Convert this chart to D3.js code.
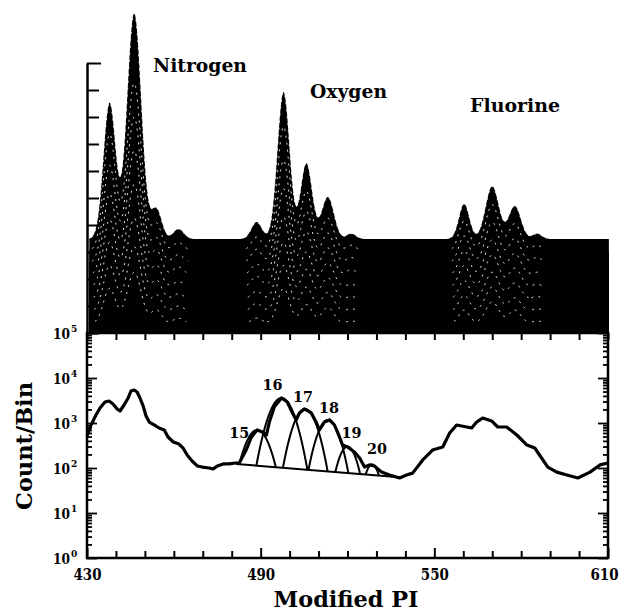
<!DOCTYPE html>
<html>
<head>
<meta charset="utf-8">
<script src="https://cdn.jsdelivr.net/npm/d3@7"></script>
<style>
  body { margin: 0; background: #fff; }
  svg { display: block; }
  text { font-family: "DejaVu Serif", serif; font-weight: bold; fill: #000; }
</style>
</head>
<body>
<svg id="chart" width="625" height="612"></svg>
<script>
// ---------------- data ----------------
// Lower panel: summed spectrum (Modified PI, counts per bin)
const spectrumPI = [
  430.0, 431.4, 433.1, 434.5, 436.2, 437.6, 439.0, 440.4, 441.4, 442.8,
  444.2, 445.2, 446.3, 447.3, 448.3, 449.4, 450.4, 451.5, 453.2, 454.9,
  456.7, 458.0, 459.8, 461.8, 463.2, 464.6, 466.3, 468.1, 469.8, 472.2,
  473.6, 475.0, 477.1, 479.2, 481.2, 482.6, 485.0, 486.8, 488.8, 490.6,
  492.0, 493.0, 494.7, 497.2, 499.2, 501.0, 502.3, 503.4, 505.1, 507.5,
  509.3, 510.3, 512.0, 513.8, 515.5, 517.2, 518.3, 520.0, 522.4, 524.2,
  525.9, 527.6, 529.3, 531.8, 534.5, 538.0, 540.4, 542.5, 546.0, 549.4,
  552.9, 555.3, 557.7, 561.2, 562.9, 564.6, 566.7, 569.8, 571.9, 575.0,
  578.5, 582.0, 584.7, 587.5, 589.2, 592.3, 595.8, 599.6, 603.8, 607.2,
  610.0
];
const spectrumCount = [
  514, 903, 1510, 2150, 2930, 3080, 2640, 2050, 1850, 2510,
  3590, 5140, 5410, 4890, 3590, 2390, 1430, 1050, 903, 774,
  699, 489, 378, 341, 278, 194, 143, 111, 105, 100,
  95, 111, 123, 123, 129, 129, 251, 489, 699, 631,
  541, 1050, 2270, 3590, 2930, 1670, 1170, 1670, 2050, 1670,
  1000, 699, 1050, 1170, 903, 489, 324, 293, 227, 167,
  105, 117, 111, 81, 70, 60, 70, 77, 151, 251,
  293, 600, 903, 815, 774, 1050, 1290, 1110, 815, 815,
  541, 324, 278, 151, 105, 81, 70, 60, 81, 117,
  129
];

// Gaussian fits to the oxygen charge-state peaks
const fitLabels = ["15", "16", "17", "18", "19", "20"];
const fitCenter = [488.8, 497.2, 505.3, 513.3, 520.0, 528.5];
const fitAmplitude = [700, 3600, 2050, 1170, 300, 120];
const fitSigma = [3.3, 3.3, 3.1, 3.0, 2.6, 2.2];

// Straight background under the fitted peaks (end points)
const fitBackgroundPI = [481.5, 538.0];
const fitBackgroundCount = [123, 62];

// Upper panel: stacked spectra, back row first
const topPeakPI = [437.8, 446.3, 454.0, 461.6, 488.6, 497.9, 505.8, 513.2, 521.3, 560.3, 570.0, 577.8, 585.5];
const topPeakWidth = [2.1, 2.45, 1.8, 1.8, 1.8, 2.1, 2.0, 2.1, 1.6, 1.8, 2.3, 2.1, 1.6];
const rowBaseline = [3.48, 3.05, 2.6, 2.15, 1.7, 1.25, 0.8, 0.35];
const rowAmplitude = [
  [5.04, 8.37, 1.10, 0.37, 0.63, 5.45, 2.80, 1.56, 0.20, 1.30, 1.95, 1.22, 0.20],
  [4.30, 6.20, 1.00, 0.30, 0.50, 4.60, 2.20, 1.20, 0.20, 1.10, 1.70, 1.00, 0.20],
  [3.60, 5.40, 0.90, 0.30, 0.50, 3.80, 1.90, 1.10, 0.20, 1.00, 1.50, 0.90, 0.20],
  [3.00, 4.60, 0.90, 0.30, 0.40, 3.20, 1.60, 1.00, 0.20, 0.90, 1.30, 0.80, 0.10],
  [2.50, 3.80, 0.80, 0.20, 0.40, 2.60, 1.30, 0.90, 0.10, 0.80, 1.20, 0.70, 0.10],
  [2.10, 3.00, 0.70, 0.20, 0.30, 2.10, 1.10, 0.80, 0.10, 0.70, 1.00, 0.60, 0.10],
  [1.70, 2.40, 0.60, 0.20, 0.30, 1.70, 0.90, 0.70, 0.10, 0.60, 0.90, 0.50, 0.10],
  [1.30, 1.90, 0.50, 0.20, 0.20, 1.30, 0.70, 0.60, 0.10, 0.50, 0.80, 0.50, 0.10]
];

const speciesNames = ["Nitrogen", "Oxygen", "Fluorine"];
const xTickValues = [430, 440, 450, 460, 470, 480, 490, 500, 510, 520, 530, 540, 550, 560, 570, 580, 590, 600, 610];
const xTickLabels = [430, 490, 550, 610];
const topTickValues = [0, 1, 2, 3, 4, 5, 6, 7, 8, 9, 10];

// ---------------- layout ----------------
const layout = {
  left: 87, right: 608,
  logTop: 333, logBottom: 558,
  topPanelTop: 63,
  speciesPos: [[153, 72, 94], [310, 98, 77], [470, 112, 90]],
  fitLabelOffset: [[-18, 8], [-9, -8], [-2, -7], [1, -7], [4, -9], [5, -10]]
};

const svg = d3.select("#chart");

const x = d3.scaleLinear().domain([430, 610]).range([layout.left, layout.right]);
const yLog = d3.scaleLog().domain([1, 1e5]).range([layout.logBottom, layout.logTop]);
const yTop = d3.scaleLinear().domain([0, 10]).range([layout.logTop, layout.topPanelTop]);

// ---------------- upper panel: stacked spectra ----------------
const samplePI = d3.range(430.8, 610.31, 0.25);
const rows = rowBaseline.map((b, k) => samplePI.map(p => {
  let v = b;
  topPeakPI.forEach((c, j) => {
    const z = (p - c) / topPeakWidth[j];
    v += rowAmplitude[k][j] * Math.exp(-0.5 * z * z);
  });
  return { pi: p, v: v, lift: v - b };
}));

const area = d3.area()
  .x(d => x(d.pi))
  .y0(yTop(0))
  .y1(d => yTop(d.v));
const edge = d3.line()
  .defined(d => d.lift > 0.06)
  .x(d => x(d.pi))
  .y(d => yTop(d.v));

const gStack = svg.append("g");
rows.forEach(r => {
  gStack.append("path").attr("d", area(r)).attr("fill", "#000");
  gStack.append("path").attr("d", edge(r))
    .attr("fill", "none").attr("stroke", "#fff")
    .attr("stroke-width", 0.9).attr("stroke-dasharray", "2 5");
});

// left axis of upper panel
const topAxis = svg.append("g")
  .attr("transform", `translate(${layout.left},0)`)
  .call(d3.axisLeft(yTop).tickValues(topTickValues).tickSize(-12).tickSizeOuter(0).tickFormat(""));
topAxis.select(".domain").attr("stroke-width", 2.5);
topAxis.selectAll(".tick line").attr("stroke-width", 2)
  .attr("x2", d => d === 10 ? 14 : 12);

// species labels
speciesNames.forEach((name, i) => {
  const [tx, ty, tw] = layout.speciesPos[i];
  svg.append("text").attr("x", tx).attr("y", ty)
    .attr("font-size", 18).attr("textLength", tw).attr("lengthAdjust", "spacingAndGlyphs")
    .text(name);
});

// ---------------- lower panel: log spectrum ----------------
// frame
svg.append("rect")
  .attr("x", layout.left).attr("y", layout.logTop)
  .attr("width", layout.right - layout.left).attr("height", layout.logBottom - layout.logTop)
  .attr("fill", "none").attr("stroke", "#000").attr("stroke-width", 2.5);

const isDecade = v => Math.abs(Math.log10(v) - Math.round(Math.log10(v))) < 1e-9;
const logTicks = yLog.ticks();

// left log axis with labels
const gLeft = svg.append("g")
  .attr("transform", `translate(${layout.left},0)`)
  .call(d3.axisLeft(yLog).tickValues(logTicks).tickSize(-5).tickSizeOuter(0).tickFormat(""));
gLeft.select(".domain").remove();
gLeft.selectAll(".tick line")
  .attr("x2", d => isDecade(d) ? 10 : 5)
  .attr("stroke-width", 1.8);
gLeft.selectAll(".tick text").remove();
logTicks.filter(isDecade).forEach(v => {
  svg.append("text")
    .attr("x", layout.left - 17).attr("y", yLog(v) + 5.5)
    .attr("text-anchor", "end").attr("font-size", 14)
    .attr("textLength", 17).attr("lengthAdjust", "spacingAndGlyphs")
    .text("10");
  svg.append("text")
    .attr("x", layout.left - 16).attr("y", yLog(v) - 1)
    .attr("font-size", 9)
    .text(Math.round(Math.log10(v)));
});

// right log axis
const gRight = svg.append("g")
  .attr("transform", `translate(${layout.right},0)`)
  .call(d3.axisRight(yLog).tickValues(logTicks).tickSize(-5).tickSizeOuter(0).tickFormat(""));
gRight.select(".domain").remove();
gRight.selectAll(".tick line")
  .attr("x2", d => isDecade(d) ? -10 : -5)
  .attr("stroke-width", 1.8);

// bottom x axis
const gBottom = svg.append("g")
  .attr("transform", `translate(0,${layout.logBottom})`)
  .call(d3.axisBottom(x).tickValues(xTickValues).tickSize(-7).tickSizeOuter(0).tickPadding(11)
    .tickFormat(d => xTickLabels.includes(d) ? d : ""));
gBottom.select(".domain").remove();
gBottom.selectAll(".tick line")
  .attr("y2", d => xTickLabels.includes(d) ? -10 : -7)
  .attr("stroke-width", 2);
gBottom.selectAll(".tick text")
  .attr("font-size", 16).attr("font-family", "DejaVu Serif").attr("font-weight", "bold")
  .attr("dx", d => d === 610 ? -4 : 0)
  .attr("textLength", d => xTickLabels.includes(d) ? 28 : null)
  .attr("lengthAdjust", "spacingAndGlyphs");

// top x ticks of lower panel
const gTopX = svg.append("g")
  .attr("transform", `translate(0,${layout.logTop})`)
  .call(d3.axisTop(x).tickValues(xTickValues).tickSize(-7).tickSizeOuter(0).tickFormat(""));
gTopX.select(".domain").remove();
gTopX.selectAll(".tick line").attr("stroke-width", 2);

// spectrum
const spectrum = spectrumPI.map((p, i) => ({ pi: p, v: spectrumCount[i] }));
svg.append("path")
  .attr("d", d3.line().x(d => x(d.pi)).y(d => yLog(d.v))(spectrum))
  .attr("fill", "none").attr("stroke", "#000").attr("stroke-width", 3.2)
  .attr("stroke-linejoin", "round");

// background line under the fits
const bgY = d3.scaleLinear().domain(fitBackgroundPI).range(fitBackgroundCount.map(c => yLog(c)));
svg.append("line")
  .attr("x1", x(fitBackgroundPI[0])).attr("y1", yLog(fitBackgroundCount[0]))
  .attr("x2", x(fitBackgroundPI[1])).attr("y2", yLog(fitBackgroundCount[1]))
  .attr("stroke", "#000").attr("stroke-width", 2);

// fitted components, drawn above the background
fitCenter.forEach((c, i) => {
  const s = fitSigma[i];
  const pts = d3.range(c - 4 * s, c + 4 * s, 0.05).map(p => {
    const z = (p - c) / s;
    return { pi: p, v: fitAmplitude[i] * Math.exp(-0.5 * z * z) };
  });
  const ln = d3.line()
    .defined(d => yLog(d.v) <= bgY(d.pi))
    .x(d => x(d.pi)).y(d => yLog(d.v));
  svg.append("path").attr("d", ln(pts))
    .attr("fill", "none").attr("stroke", "#000").attr("stroke-width", 2);
  const [dx, dy] = layout.fitLabelOffset[i];
  svg.append("text")
    .attr("x", x(c) + dx).attr("y", yLog(fitAmplitude[i]) + dy)
    .attr("text-anchor", "middle").attr("font-size", 15)
    .attr("textLength", 20).attr("lengthAdjust", "spacingAndGlyphs")
    .text(fitLabels[i]);
});

// axis titles
svg.append("text")
  .attr("transform", "translate(32,446) rotate(-90)")
  .attr("text-anchor", "middle").attr("font-size", 22)
  .attr("textLength", 128).attr("lengthAdjust", "spacingAndGlyphs")
  .text("Count/Bin");
svg.append("text")
  .attr("x", 346).attr("y", 607)
  .attr("text-anchor", "middle").attr("font-size", 22)
  .attr("textLength", 145).attr("lengthAdjust", "spacingAndGlyphs")
  .text("Modified PI");
</script>
</body>
</html>
